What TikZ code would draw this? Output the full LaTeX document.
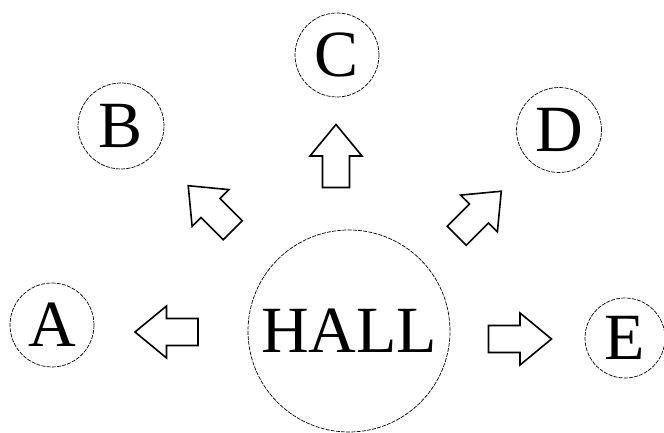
\documentclass[tikz,border=0pt]{standalone}
\usepackage{fontspec}
\setmainfont{Liberation Serif}
\usepackage{tikz}
\usetikzlibrary{positioning}

\begin{document}
\begin{tikzpicture}[x=1pt, y=1pt,
        font=\fontsize{66}{68}\selectfont,
        room/.style={circle, draw, line width=0.7pt,
                     dash pattern=on 4pt off 1.2pt, inner sep=0pt},
        exitline/.style={line width=1.6pt, line join=miter},
        exitarrow/.pic={
          \draw[exitline] (-31.5,-13.5) -- (0,-13.5) -- (0,-26) -- (31.5,0)
                -- (0,26) -- (0,13.5) -- (-31.5,13.5) -- cycle;
        },
      ]
        \useasboundingbox (0,0) rectangle (664,433);

        \node[room, minimum size=202pt] (hall) at (349,102) {HALL};
        \node[room, minimum size=84pt] (a) at (52,108) {A};
        \node[room, minimum size=86pt] (b) at (121,307) {B};
        \node[room, minimum size=84pt] (c) at (337,378) {C};
        \node[room, minimum size=85pt] (d) at (559,303) {D};
        \node[room, minimum size=80pt] (e) at (625,95) {E};

        \pic[rotate=180] (toa) at (166.5,101) {exitarrow};
        \pic[rotate=135] (tob) at (210.5,225) {exitarrow};
        \pic[rotate=90] (toc) at (336,277) {exitarrow};
        \pic[rotate=45] (tod) at (479,219.5) {exitarrow};
        \pic (toe) at (520,94) {exitarrow};
      \end{tikzpicture}
\end{document}
